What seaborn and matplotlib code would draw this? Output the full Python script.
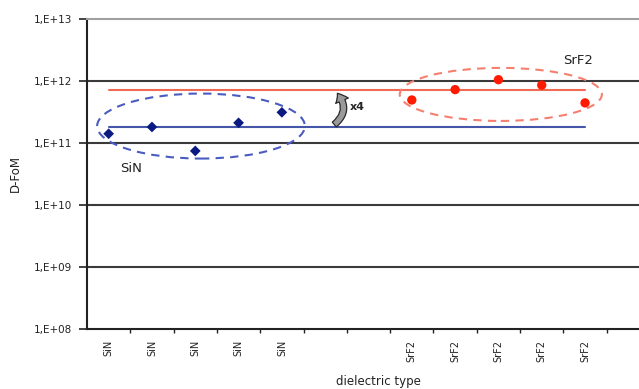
import numpy as np
import pandas as pd
import matplotlib
matplotlib.use('Agg')
import matplotlib.pyplot as plt
import seaborn as sns
from matplotlib.patches import Ellipse, FancyArrowPatch

# dielectric samples (category slots on the x axis)
sin_pos = [0, 1, 2, 3, 4]
sin_fom = [1.4e11, 1.8e11, 7.4e10, 2.1e11, 3.1e11]
srf2_pos = [7, 8, 9, 10, 11]
srf2_fom = [4.9e11, 7.2e11, 1.04e12, 8.5e11, 4.4e11]

# average level of each group
sin_mean = 1.8e11
srf2_mean = 7.2e11
mean_span = [0, 11]

n_slots = 13
ytick_vals = [1e8, 1e9, 1e10, 1e11, 1e12, 1e13]
ytick_labels = ['1,E+08', '1,E+09', '1,E+10', '1,E+11', '1,E+12', '1,E+13']


def main():
    sns.set_style('white')
    plt.rcParams['font.family'] = ['DejaVu Sans']

    fig = plt.figure(figsize=(6.39, 3.89), dpi=100)
    W, H = 639, 389
    left, right, top, bottom = 87, 650, 18.7, 329
    ax = fig.add_axes([left / W, 1 - bottom / H, (right - left) / W, (bottom - top) / H])

    ax.set_yscale('log')
    ax.set_ylim(1e8, 1e13)
    ax.set_xlim(-0.5, n_slots - 0.5)

    # horizontal grid
    for v in ytick_vals[1:-1]:
        ax.axhline(v, color='#3a3a3a', lw=1.5, zorder=1)

    # mean lines
    df_lines = pd.DataFrame({
        'x': mean_span * 2,
        'y': [srf2_mean] * 2 + [sin_mean] * 2,
        'grp': ['SrF2'] * 2 + ['SiN'] * 2,
    })
    sns.lineplot(data=df_lines, x='x', y='y', hue='grp',
                 palette={'SrF2': '#f06a55', 'SiN': '#4556a8'},
                 lw=1.5, legend=False, ax=ax, zorder=2)

    # points
    sns.scatterplot(x=sin_pos, y=sin_fom, marker='D', s=30, color='#0a1a80',
                    edgecolor='none', ax=ax, zorder=4)
    sns.scatterplot(x=srf2_pos, y=srf2_fom, marker='o', s=45, color='#ff1a00',
                    edgecolor='none', ax=ax, zorder=4)

    # group ellipses (axes coordinates)
    ax.add_patch(Ellipse((0.2025, 0.654), 0.369, 0.2095, transform=ax.transAxes,
                         fill=False, ec='#4a5cc0', lw=1.5, ls=(0, (4, 3)), zorder=3))
    ax.add_patch(Ellipse((0.735, 0.756), 0.359, 0.171, transform=ax.transAxes,
                         fill=False, ec='#f58070', lw=1.5, ls=(0, (4, 3)), zorder=3))

    ax.text(0.52, 3.8e10, 'SiN', fontsize=9.5, color='#222', ha='center', va='center')
    ax.text(10.84, 2.1e12, 'SrF2', fontsize=9.5, color='#222', ha='center', va='center')

    # x4 arrow between the two levels
    arr = FancyArrowPatch((5.16, 1.85e11), (5.24, 6.8e11),
                          connectionstyle='arc3,rad=0.55',
                          arrowstyle='simple,tail_width=0.5,head_width=1.1,head_length=0.7',
                          mutation_scale=9, fc='#9a9a9a', ec='#2a2a2a', lw=0.9, zorder=5)
    ax.add_patch(arr)
    ax.text(5.74, 3.8e11, 'x4', fontsize=8, fontweight='bold', ha='center', va='center')

    # axes styling
    ax.spines['right'].set_visible(False)
    ax.spines['top'].set_color('#a0a0a0')
    ax.spines['top'].set_linewidth(1.5)
    for s in ['left', 'bottom']:
        ax.spines[s].set_color('#222')
        ax.spines[s].set_linewidth(1.5)

    ax.set_yticks(ytick_vals)
    ax.set_yticklabels(ytick_labels, fontsize=7.5, color='#222')
    ax.yaxis.set_minor_locator(matplotlib.ticker.NullLocator())
    ax.tick_params(axis='y', which='major', direction='out', length=6, width=1.2,
                   color='#222', left=True, pad=5)

    # category separators as major ticks, names as minor ticks
    ax.set_xticks(np.arange(0.5, n_slots - 0.5, 1.0))
    ax.set_xticklabels([])
    ax.tick_params(axis='x', which='major', direction='out', length=3, width=1,
                   color='#222', bottom=True)
    ax.set_xticks(sin_pos + srf2_pos, minor=True)
    ax.set_xticklabels(['SiN'] * len(sin_pos) + ['SrF2'] * len(srf2_pos), minor=True,
                       rotation=90, fontsize=7, color='#222')
    ax.tick_params(axis='x', which='minor', length=0, pad=8)

    ax.set_xlabel('')
    ax.set_ylabel('')
    fig.text(378 / W, 1 - 381 / H, 'dielectric type', fontsize=8.5, ha='center', va='center', color='#222')
    fig.text(15 / W, 1 - 174 / H, 'D-FoM', fontsize=8.5, rotation=90, ha='center', va='center', color='#222')

    fig.savefig('out.png', dpi=100)
    plt.close(fig)


if __name__ == '__main__':
    main()
